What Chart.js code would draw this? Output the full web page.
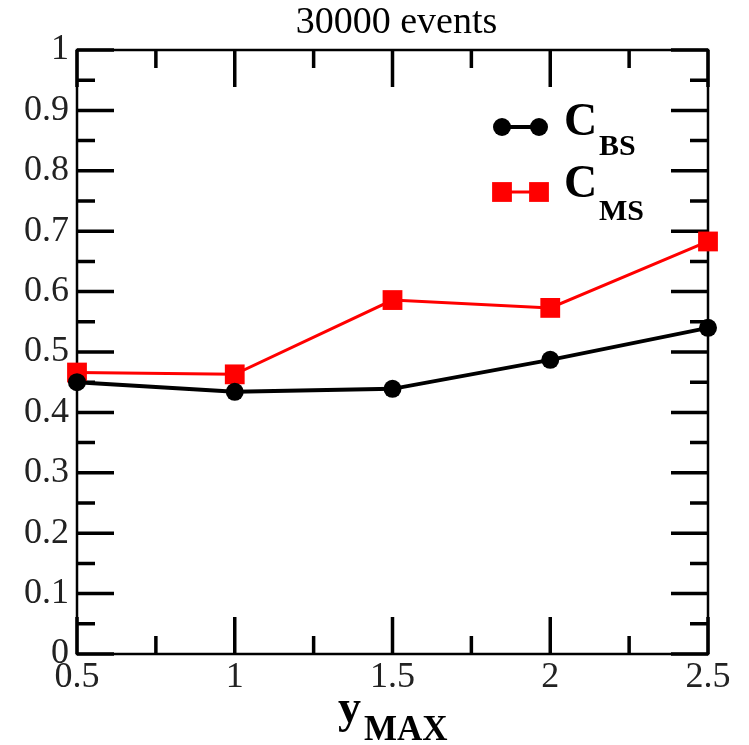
<!DOCTYPE html>
<html>
<head>
<meta charset="utf-8">
<script src="https://cdn.jsdelivr.net/npm/chart.js@4/dist/chart.umd.min.js"></script>
<style>
  html, body { margin: 0; padding: 0; background: #ffffff; }
  #c { display: block; }
</style>
</head>
<body>
<canvas id="c" width="749" height="745"></canvas>
<script>
// ---- data ----
const xValues = [0.5, 1, 1.5, 2, 2.5];
const cBS = [0.450, 0.434, 0.439, 0.487, 0.540];
const cMS = [0.466, 0.463, 0.586, 0.573, 0.683];
const xTicks = [0.5, 1, 1.5, 2, 2.5];
const yTicks = [0, 0.1, 0.2, 0.3, 0.4, 0.5, 0.6, 0.7, 0.8, 0.9, 1];
const xTickLabels = ['0.5', '1', '1.5', '2', '2.5'];
const yTickLabels = ['0', '0.1', '0.2', '0.3', '0.4', '0.5', '0.6', '0.7', '0.8', '0.9', '1'];
const titleText = '30000 events';
const seriesNames = [['C', 'BS'], ['C', 'MS']];

const SERIF = "'Liberation Serif', 'Times New Roman', serif";

function toPoints(ys) { return xValues.map((x, i) => ({ x: x, y: ys[i] })); }

const framePlugin = {
  id: 'frame',
  beforeDatasetsDraw(chart) {
    const ctx = chart.ctx;
    const a = chart.chartArea;
    const xs = chart.scales.x, ys = chart.scales.y;
    ctx.save();
    ctx.strokeStyle = '#000';
    ctx.lineWidth = 2.5;
    ctx.strokeRect(a.left, a.top, a.right - a.left, a.bottom - a.top);
    ctx.lineWidth = 3.5;
    ctx.lineCap = 'butt';
    const major = 37, minor = 18;
    for (let i = 0; i < xTicks.length; i++) {
      const vals = [[xTicks[i], major]];
      if (i < xTicks.length - 1) vals.push([(xTicks[i] + xTicks[i + 1]) / 2, minor]);
      for (const [v, len] of vals) {
        const px = xs.getPixelForValue(v);
        ctx.beginPath();
        ctx.moveTo(px, a.bottom); ctx.lineTo(px, a.bottom - len);
        ctx.moveTo(px, a.top); ctx.lineTo(px, a.top + len);
        ctx.stroke();
      }
    }
    for (let i = 0; i < yTicks.length; i++) {
      const vals = [[yTicks[i], major]];
      if (i < yTicks.length - 1) vals.push([(yTicks[i] + yTicks[i + 1]) / 2, minor]);
      for (const [v, len] of vals) {
        const py = ys.getPixelForValue(v);
        ctx.beginPath();
        ctx.moveTo(a.left, py); ctx.lineTo(a.left + len, py);
        ctx.moveTo(a.right, py); ctx.lineTo(a.right - len, py);
        ctx.stroke();
      }
    }
    ctx.restore();
  },
  afterDraw(chart) {
    const ctx = chart.ctx;
    const a = chart.chartArea;
    ctx.save();
    ctx.fillStyle = '#000';
    ctx.font = '38px ' + SERIF;
    ctx.textAlign = 'center';
    ctx.textBaseline = 'alphabetic';
    ctx.fillText(titleText, (a.left + a.right) / 2 + 4, 33);
    ctx.textAlign = 'left';
    ctx.font = 'bold 46px ' + SERIF;
    ctx.fillText('y', 338, 722);
    ctx.font = 'bold 35px ' + SERIF;
    ctx.fillText('MAX', 364, 740);
    const ds = chart.data.datasets;
    const rows = [
      { y: 127, base: 135, sub: 155 },
      { y: 192, base: 197, sub: 220 }
    ];
    rows.forEach((r, i) => {
      const d = ds[i];
      ctx.strokeStyle = d.borderColor;
      ctx.fillStyle = d.backgroundColor;
      ctx.lineWidth = d.borderWidth;
      ctx.beginPath();
      ctx.moveTo(502, r.y); ctx.lineTo(539, r.y);
      ctx.stroke();
      [502, 539].forEach(cx => {
        ctx.beginPath();
        if (d.pointStyle === 'rect') {
          const s = Math.SQRT1_2 * d.pointRadius;
          ctx.rect(cx - s, r.y - s, 2 * s, 2 * s);
        } else {
          ctx.arc(cx, r.y, d.pointRadius, 0, Math.PI * 2);
        }
        ctx.fill();
      });
      ctx.fillStyle = '#000';
      ctx.font = 'bold 46px ' + SERIF;
      ctx.fillText(seriesNames[i][0], 564, r.base);
      ctx.font = 'bold 30px ' + SERIF;
      ctx.fillText(seriesNames[i][1], 599, r.sub);
    });
    ctx.restore();
  }
};

new Chart(document.getElementById('c'), {
  type: 'line',
  data: {
    datasets: [
      {
        label: 'CBS',
        data: toPoints(cBS),
        borderColor: '#000000',
        backgroundColor: '#000000',
        borderWidth: 4,
        pointStyle: 'circle',
        pointRadius: 9,
        pointBorderWidth: 0,
        pointHoverRadius: 9,
        tension: 0,
        clip: false
      },
      {
        label: 'CMS',
        data: toPoints(cMS),
        borderColor: '#ff0000',
        backgroundColor: '#ff0000',
        borderWidth: 3,
        pointStyle: 'rect',
        pointRadius: 14,
        pointBorderWidth: 0,
        pointHoverRadius: 14,
        tension: 0,
        clip: false
      }
    ]
  },
  options: {
    responsive: false,
    animation: false,
    devicePixelRatio: 1,
    layout: { padding: { top: 50, right: 41, left: 0, bottom: 0 } },
    plugins: {
      legend: { display: false },
      title: { display: false },
      tooltip: { enabled: false }
    },
    scales: {
      x: {
        type: 'linear',
        min: 0.5, max: 2.5,
        afterBuildTicks(scale) { scale.ticks = xTicks.map(v => ({ value: v })); },
        afterFit(scale) { scale.height = 91; },
        grid: { display: false, drawTicks: false },
        border: { display: false },
        ticks: {
          autoSkip: false,
          maxRotation: 0,
          padding: 2,
          color: '#222',
          font: { family: SERIF, size: 36 },
          callback(v) { const i = xTicks.indexOf(v); return i >= 0 ? xTickLabels[i] : ''; }
        }
      },
      y: {
        type: 'linear',
        min: 0, max: 1,
        afterBuildTicks(scale) { scale.ticks = yTicks.map(v => ({ value: v })); },
        afterFit(scale) { scale.width = 77; },
        grid: { display: false, drawTicks: false },
        border: { display: false },
        ticks: {
          autoSkip: false,
          padding: 8,
          color: '#222',
          font: { family: SERIF, size: 36 },
          callback(v) {
            const i = yTicks.findIndex(t => Math.abs(t - v) < 1e-9);
            return i >= 0 ? yTickLabels[i] : '';
          }
        }
      }
    }
  },
  plugins: [framePlugin]
});
</script>
</body>
</html>
